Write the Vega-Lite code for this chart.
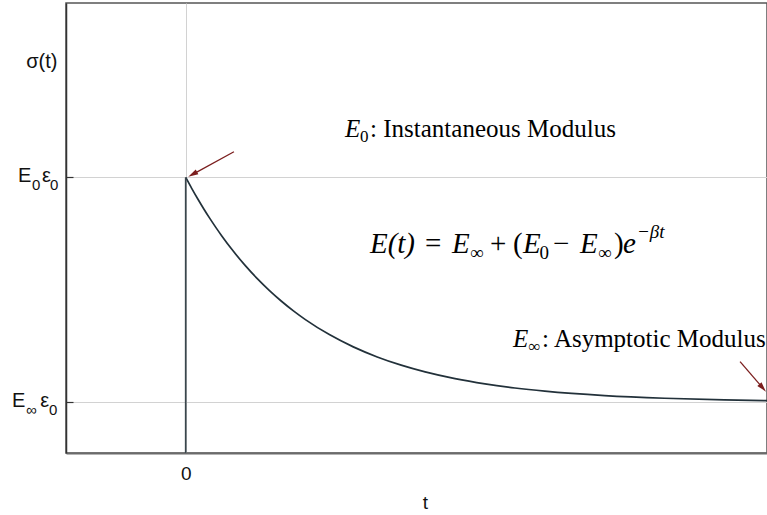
{
  "$schema": "https://vega.github.io/schema/vega-lite/v6.json",
  "width": 701,
  "height": 450,
  "autosize": {"type": "none"},
  "padding": {"left": 66, "top": 3, "right": 0, "bottom": 62},
  "background": "white",
  "config": {
    "view": {"stroke": "#555555", "strokeWidth": 1.5},
    "axis": {"gridColor": "#d2d2d2", "gridWidth": 1}
  },
  "datasets": {
    "curve": [
      {"t": 0, "sigma": 2.45},
      {"t": 0.05, "sigma": 2.3525},
      {"t": 0.1, "sigma": 2.2597},
      {"t": 0.15, "sigma": 2.1714},
      {"t": 0.2, "sigma": 2.0875},
      {"t": 0.25, "sigma": 2.0076},
      {"t": 0.3, "sigma": 1.9316},
      {"t": 0.4, "sigma": 1.7906},
      {"t": 0.5, "sigma": 1.6631},
      {"t": 0.6, "sigma": 1.5476},
      {"t": 0.7, "sigma": 1.4432},
      {"t": 0.8, "sigma": 1.3487},
      {"t": 0.9, "sigma": 1.2631},
      {"t": 1.0, "sigma": 1.1858},
      {"t": 1.2, "sigma": 1.0524},
      {"t": 1.4, "sigma": 0.9432},
      {"t": 1.6, "sigma": 0.8538},
      {"t": 1.8, "sigma": 0.7806},
      {"t": 2.0, "sigma": 0.7207},
      {"t": 2.25, "sigma": 0.6608},
      {"t": 2.5, "sigma": 0.6142},
      {"t": 2.75, "sigma": 0.5779},
      {"t": 3.0, "sigma": 0.5496},
      {"t": 3.5, "sigma": 0.5104},
      {"t": 4.0, "sigma": 0.4866},
      {"t": 4.5, "sigma": 0.4722},
      {"t": 4.856, "sigma": 0.4656}
    ],
    "step": [{"t": 0, "s0": 0, "s1": 2.45}],
    "arrows": [
      {"id": "instant", "x": 0.403, "y": 2.678, "x2": 0.058, "y2": 2.477},
      {"id": "asym", "x": 4.631, "y": 0.812, "x2": 4.82, "y2": 0.579}
    ],
    "notes": [
      {"x": 1.331, "y": 2.809, "txt": "E", "kind": "it25"},
      {"x": 1.456, "y": 2.809, "txt": "0", "kind": "sub25"},
      {"x": 1.54, "y": 2.809, "txt": ": Instantaneous Modulus", "kind": "rm25"},
      {"x": 2.734, "y": 0.942, "txt": "E", "kind": "it25"},
      {"x": 2.864, "y": 0.942, "txt": "∞", "kind": "sub25"},
      {"x": 2.977, "y": 0.942, "txt": ": Asymptotic Modulus", "kind": "rm25"},
      {"x": 1.539, "y": 1.778, "txt": "E(t)", "kind": "it30"},
      {"x": 2.0, "y": 1.778, "txt": "=", "kind": "rm30"},
      {"x": 2.224, "y": 1.778, "txt": "E", "kind": "it30"},
      {"x": 2.375, "y": 1.778, "txt": "∞", "kind": "sub30"},
      {"x": 2.542, "y": 1.778, "txt": "+", "kind": "rm30"},
      {"x": 2.734, "y": 1.778, "txt": "(", "kind": "rm30"},
      {"x": 2.818, "y": 1.778, "txt": "E", "kind": "it30"},
      {"x": 2.956, "y": 1.778, "txt": "0", "kind": "sub30"},
      {"x": 3.068, "y": 1.778, "txt": "−", "kind": "rm30"},
      {"x": 3.294, "y": 1.778, "txt": "E", "kind": "it30"},
      {"x": 3.444, "y": 1.778, "txt": "∞", "kind": "sub30"},
      {"x": 3.578, "y": 1.778, "txt": ")", "kind": "rm30"},
      {"x": 3.653, "y": 1.778, "txt": "e", "kind": "it30"},
      {"x": 3.77, "y": 1.778, "txt": "−βt", "kind": "sup30"}
    ],
    "ylabels": [
      {"x": -1.401, "y": 2.45, "txt": "E", "kind": "main"},
      {"x": -1.284, "y": 2.45, "txt": "0", "kind": "sub"},
      {"x": -1.201, "y": 2.45, "txt": "ε", "kind": "main"},
      {"x": -1.134, "y": 2.45, "txt": "0", "kind": "sub"},
      {"x": -1.451, "y": 0.45, "txt": "E", "kind": "main"},
      {"x": -1.334, "y": 0.45, "txt": "∞", "kind": "sub"},
      {"x": -1.215, "y": 0.45, "txt": "ε", "kind": "main"},
      {"x": -1.142, "y": 0.45, "txt": "0", "kind": "sub"}
    ]
  },
  "encoding": {
    "x": {"type": "quantitative", "scale": {"domain": [-1, 4.856], "nice": false, "zero": false}},
    "y": {"type": "quantitative", "scale": {"domain": [0, 4], "nice": false, "zero": false}}
  },
  "layer": [
    {
      "data": {"name": "curve"},
      "mark": {"type": "line", "interpolate": "monotone", "color": "#22313a", "strokeWidth": 1.7},
      "encoding": {
        "x": {
          "field": "t", "type": "quantitative",
          "axis": {
            "values": [0], "format": "d", "title": "t", "grid": true, "ticks": false,
            "labelFont": "Liberation Sans", "labelFontSize": 19, "labelColor": "#111111", "labelPadding": 11,
            "domainColor": "#6b6b6b", "domainWidth": 2,
            "titleFont": "Liberation Sans", "titleFontSize": 19, "titleFontWeight": "normal", "titleColor": "#111111",
            "titleX": 359, "titleY": 55, "titleBaseline": "alphabetic", "titleAlign": "center"
          }
        },
        "y": {
          "field": "sigma", "type": "quantitative",
          "axis": {
            "values": [0.45, 2.45], "labels": false, "grid": true,
            "tickSize": -7, "tickColor": "#333333", "tickWidth": 1.2,
            "domainColor": "#333333", "domainWidth": 1.5,
            "title": "σ(t)", "titleAngle": 0, "titleAlign": "right", "titleBaseline": "alphabetic",
            "titleX": -9, "titleY": 64,
            "titleFont": "Liberation Sans", "titleFontSize": 20, "titleFontWeight": "normal", "titleColor": "#111111"
          }
        }
      }
    },
    {
      "data": {"name": "step"},
      "mark": {"type": "rule", "color": "#3a464c", "strokeWidth": 1.7},
      "encoding": {
        "x": {"field": "t", "type": "quantitative"},
        "y": {"field": "s0", "type": "quantitative"},
        "y2": {"field": "s1"}
      }
    },
    {
      "data": {"name": "arrows"},
      "mark": {"type": "rule", "color": "#7b1e1e", "strokeWidth": 1.3},
      "encoding": {
        "x": {"field": "x", "type": "quantitative"},
        "y": {"field": "y", "type": "quantitative"},
        "x2": {"field": "x2"},
        "y2": {"field": "y2"}
      }
    },
    {
      "data": {"name": "arrows"},
      "transform": [{"filter": "datum.id === 'instant'"}],
      "mark": {"type": "point", "shape": "M0,-1L0.55,1L-0.55,1Z", "filled": true, "opacity": 1, "color": "#7b1e1e", "size": 100, "angle": 241.5},
      "encoding": {
        "x": {"field": "x2", "type": "quantitative"},
        "y": {"field": "y2", "type": "quantitative"}
      }
    },
    {
      "data": {"name": "arrows"},
      "transform": [{"filter": "datum.id === 'asym'"}],
      "mark": {"type": "point", "shape": "M0,-1L0.55,1L-0.55,1Z", "filled": true, "opacity": 1, "color": "#7b1e1e", "size": 100, "angle": 139.1},
      "encoding": {
        "x": {"field": "x2", "type": "quantitative"},
        "y": {"field": "y2", "type": "quantitative"}
      }
    },
    {
      "data": {"name": "notes"},
      "transform": [{"filter": "datum.kind === 'it25'"}],
      "mark": {"type": "text", "font": "Liberation Serif", "fontStyle": "italic", "fontSize": 25, "align": "left", "baseline": "alphabetic", "color": "#000000"},
      "encoding": {"x": {"field": "x", "type": "quantitative"}, "y": {"field": "y", "type": "quantitative"}, "text": {"field": "txt"}}
    },
    {
      "data": {"name": "notes"},
      "transform": [{"filter": "datum.kind === 'rm25'"}],
      "mark": {"type": "text", "font": "Liberation Serif", "fontSize": 25, "align": "left", "baseline": "alphabetic", "color": "#000000"},
      "encoding": {"x": {"field": "x", "type": "quantitative"}, "y": {"field": "y", "type": "quantitative"}, "text": {"field": "txt"}}
    },
    {
      "data": {"name": "notes"},
      "transform": [{"filter": "datum.kind === 'sub25'"}],
      "mark": {"type": "text", "font": "Liberation Serif", "fontSize": 17, "dy": 5, "align": "left", "baseline": "alphabetic", "color": "#000000"},
      "encoding": {"x": {"field": "x", "type": "quantitative"}, "y": {"field": "y", "type": "quantitative"}, "text": {"field": "txt"}}
    },
    {
      "data": {"name": "notes"},
      "transform": [{"filter": "datum.kind === 'it30'"}],
      "mark": {"type": "text", "font": "Liberation Serif", "fontStyle": "italic", "fontSize": 29, "align": "left", "baseline": "alphabetic", "color": "#000000"},
      "encoding": {"x": {"field": "x", "type": "quantitative"}, "y": {"field": "y", "type": "quantitative"}, "text": {"field": "txt"}}
    },
    {
      "data": {"name": "notes"},
      "transform": [{"filter": "datum.kind === 'rm30'"}],
      "mark": {"type": "text", "font": "Liberation Serif", "fontSize": 29, "align": "left", "baseline": "alphabetic", "color": "#000000"},
      "encoding": {"x": {"field": "x", "type": "quantitative"}, "y": {"field": "y", "type": "quantitative"}, "text": {"field": "txt"}}
    },
    {
      "data": {"name": "notes"},
      "transform": [{"filter": "datum.kind === 'sub30'"}],
      "mark": {"type": "text", "font": "Liberation Serif", "fontSize": 19, "dy": 6, "align": "left", "baseline": "alphabetic", "color": "#000000"},
      "encoding": {"x": {"field": "x", "type": "quantitative"}, "y": {"field": "y", "type": "quantitative"}, "text": {"field": "txt"}}
    },
    {
      "data": {"name": "notes"},
      "transform": [{"filter": "datum.kind === 'sup30'"}],
      "mark": {"type": "text", "font": "Liberation Serif", "fontStyle": "italic", "fontSize": 19, "dy": -15, "align": "left", "baseline": "alphabetic", "color": "#000000"},
      "encoding": {"x": {"field": "x", "type": "quantitative"}, "y": {"field": "y", "type": "quantitative"}, "text": {"field": "txt"}}
    },
    {
      "data": {"name": "ylabels"},
      "transform": [{"filter": "datum.kind === 'main'"}],
      "mark": {"type": "text", "font": "Liberation Sans", "fontSize": 20, "dy": 5, "align": "left", "baseline": "alphabetic", "color": "#111111"},
      "encoding": {"x": {"field": "x", "type": "quantitative"}, "y": {"field": "y", "type": "quantitative"}, "text": {"field": "txt"}}
    },
    {
      "data": {"name": "ylabels"},
      "transform": [{"filter": "datum.kind === 'sub'"}],
      "mark": {"type": "text", "font": "Liberation Sans", "fontSize": 15, "dy": 13, "align": "left", "baseline": "alphabetic", "color": "#111111"},
      "encoding": {"x": {"field": "x", "type": "quantitative"}, "y": {"field": "y", "type": "quantitative"}, "text": {"field": "txt"}}
    }
  ]
}
